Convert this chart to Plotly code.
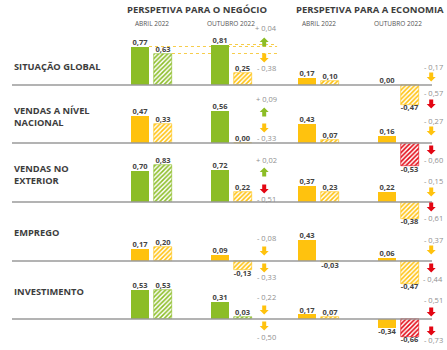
import plotly.graph_objects as go

# ---------------- DATA ----------------
row_labels = ["SITUAÇÃO GLOBAL", "VENDAS A NÍVEL<br>NACIONAL", "VENDAS NO<br>EXTERIOR",
              "EMPREGO", "INVESTIMENTO"]
panel_titles = ["PERSPETIVA PARA O NEGÓCIO", "PERSPETIVA PARA A ECONOMIA"]
period_labels = ["ABRIL 2022", "OUTUBRO 2022"]

# Perspetiva para o negócio
neg_abr_atual = [0.77, 0.47, 0.70, 0.17, 0.53]
neg_abr_expect = [0.63, 0.33, 0.83, 0.20, 0.53]
neg_out_atual = [0.81, 0.56, 0.72, 0.09, 0.31]
neg_out_expect = [0.25, 0.00, 0.22, -0.13, 0.03]
neg_var_atual = [0.04, 0.09, 0.02, -0.08, -0.22]
neg_var_expect = [-0.38, -0.33, -0.51, -0.33, -0.50]

# Perspetiva para a economia
eco_abr_atual = [0.17, 0.43, 0.37, 0.43, 0.17]
eco_abr_expect = [0.10, 0.07, 0.23, -0.03, 0.07]
eco_out_atual = [0.00, 0.16, 0.22, 0.06, -0.34]
eco_out_expect = [-0.47, -0.53, -0.38, -0.47, -0.66]
eco_var_atual = [-0.17, -0.27, -0.15, -0.37, -0.51]
eco_var_expect = [-0.57, -0.60, -0.61, -0.44, -0.73]

# sentiment class of every bar / arrow (G good, Y moderate, R bad)
neg_abr_atual_cls = ["G", "Y", "G", "Y", "G"]
neg_abr_expect_cls = ["G", "Y", "G", "Y", "G"]
neg_out_atual_cls = ["G", "G", "G", "Y", "G"]
neg_out_expect_cls = ["Y", "Y", "Y", "Y", "G"]
neg_var_atual_cls = ["G", "G", "G", "Y", "Y"]
neg_var_expect_cls = ["Y", "Y", "R", "Y", "Y"]
eco_abr_atual_cls = ["Y", "Y", "Y", "Y", "Y"]
eco_abr_expect_cls = ["Y", "Y", "Y", "Y", "Y"]
eco_out_atual_cls = ["Y", "Y", "Y", "Y", "Y"]
eco_out_expect_cls = ["Y", "R", "Y", "Y", "R"]
eco_var_atual_cls = ["Y", "Y", "Y", "Y", "R"]
eco_var_expect_cls = ["R", "R", "R", "R", "R"]

# ---------------- STYLE / LAYOUT ----------------
W, H = 447, 350
COL = {"G": "#8CBD26", "Y": "#FFC20E", "R": "#E30613"}
FONT = "Open Sans"
DARK = "#3d3d3d"

baselines = [85, 143, 202, 261, 319]          # px from top
scales = [[50, 57, 45, 70, 55], [42, 44, 44, 48, 27]]   # px per unit
UNIT = 23.0                                   # px per x unit
origins = [140, 307]
xdomains = [(115, 285), (285, 447)]
bar_pos = [0, 1, 3.48, 4.46]
hatched = [False, True, False, True]
arrow_x = 5.4
text_x = 5.48
BAR_W = 0.78

# offsets (px, positive = down) of [delta text 1, arrow 1, arrow 2, delta text 2]
offs = [
    [[-57, -43, -27, -17], [-44, -31, -15, -5], [-42, -30, -13, -3], [-23, -10, 7, 16], [-22, -9, 7, 18]],
    [[-18, -8, 19, 8], [-22, -12, 7, 17], [-21, -10, 5, 16], [-21, -11, 7, 18], [-19, -7, 12, 21]],
]
label_offs = [-18, -27, -28, -29, -28]

panels = [
    dict(vals=[neg_abr_atual, neg_abr_expect, neg_out_atual, neg_out_expect],
         cls=[neg_abr_atual_cls, neg_abr_expect_cls, neg_out_atual_cls, neg_out_expect_cls],
         var=[neg_var_atual, neg_var_expect], vcls=[neg_var_atual_cls, neg_var_expect_cls]),
    dict(vals=[eco_abr_atual, eco_abr_expect, eco_out_atual, eco_out_expect],
         cls=[eco_abr_atual_cls, eco_abr_expect_cls, eco_out_atual_cls, eco_out_expect_cls],
         var=[eco_var_atual, eco_var_expect], vcls=[eco_var_atual_cls, eco_var_expect_cls]),
]


def fmt(v):
    return f"{v:.2f}".replace(".", ",")


def fmt_delta(v):
    return ("+ " if v > 0 else "- ") + f"{abs(v):.2f}".replace(".", ",")


fig = go.Figure()
layout = dict(width=W, height=H, margin=dict(l=0, r=0, t=0, b=0),
              paper_bgcolor="white", plot_bgcolor="rgba(0,0,0,0)",
              showlegend=False, bargap=0)
shapes, annots = [], []

for p in range(2):
    xname = "xaxis" if p == 0 else "xaxis2"
    d0, d1 = xdomains[p]
    layout[xname] = dict(domain=[d0 / W, d1 / W],
                         range=[(d0 - origins[p]) / UNIT, (d1 - origins[p]) / UNIT],
                         visible=False, fixedrange=True,
                         anchor="y" if p == 0 else "y2")

for r in range(5):
    b = baselines[r]
    for p in range(2):
        k = 2 * r + p + 1
        yname = "yaxis" if k == 1 else f"yaxis{k}"
        yref = "y" if k == 1 else f"y{k}"
        xref = "x" if p == 0 else "x2"
        s = scales[p][r]
        top = max(0, b - 60)
        bot = min(H, b + 40)
        layout[yname] = dict(domain=[1 - bot / H, 1 - top / H],
                             range=[-(bot - b) / s, (b - top) / s],
                             visible=False, fixedrange=True, anchor=xref)
        pan = panels[p]
        for c in range(4):
            v = pan["vals"][c][r]
            col = COL[pan["cls"][c][r]]
            if hatched[c]:
                marker = dict(color="white", line=dict(width=0.6, color=col),
                              pattern=dict(shape="/", fgcolor=col, bgcolor="white",
                                           size=3.2, solidity=0.5, fillmode="replace"))
            else:
                marker = dict(color=col, line=dict(width=0))
            fig.add_trace(go.Bar(x=[bar_pos[c]], y=[v], width=BAR_W,
                                 xaxis=xref, yaxis=yref, marker=marker,
                                 hoverinfo="skip"))
        vals = [pan["vals"][c][r] for c in range(4)]
        fig.add_trace(go.Scatter(
            x=bar_pos, y=vals, xaxis=xref, yaxis=yref, mode="text",
            text=[f"<b>{fmt(v)}</b>" for v in vals],
            textposition=["top center" if v >= 0 else "bottom center" for v in vals],
            textfont=dict(family=FONT, size=7.5, color="#444"),
            cliponaxis=False, hoverinfo="skip"))
        o = offs[p][r]
        for v, oy in [(pan["var"][0][r], o[0]), (pan["var"][1][r], o[3])]:
            annots.append(dict(x=text_x, y=0, xref=xref, yref=yref, yshift=-oy,
                               text=fmt_delta(v), showarrow=False,
                               font=dict(family=FONT, size=7.5, color="#8f8f8f"),
                               xanchor="center", yanchor="middle"))
        for j, oy in enumerate([o[1], o[2]]):
            v = pan["var"][j][r]
            c = COL[pan["vcls"][j][r]]
            cy = -oy
            sgn = 1 if v > 0 else -1
            hw, sw, hh, sh = 4.5, 2.0, 4.5, 4.5
            pts = [(-sw, cy - sgn * sh), (sw, cy - sgn * sh), (sw, cy), (hw, cy),
                   (0, cy + sgn * hh), (-hw, cy), (-sw, cy)]
            path = "M " + " L ".join(f"{px},{py}" for px, py in pts) + " Z"
            shapes.append(dict(type="path", xref=xref, yref=yref,
                               xsizemode="pixel", ysizemode="pixel",
                               xanchor=arrow_x, yanchor=0, path=path,
                               fillcolor=c, line=dict(width=0)))
        if p == 0:
            shapes.append(dict(type="line", xref="paper", yref=yref,
                               x0=12 / W, x1=432 / W, y0=0, y1=0,
                               line=dict(color="#9a9a9a", width=1.5), layer="above"))
            annots.append(dict(x=12 / W, y=0, xref="paper", yref=yref, yshift=-label_offs[r],
                               text=f"<b>{row_labels[r]}</b>", showarrow=False, align="left",
                               font=dict(family=FONT, size=9.3, color=DARK),
                               xanchor="left", yanchor="middle"))

# dotted reference lines in the first business row
ref_lines = [(neg_out_atual[0], bar_pos[2] + BAR_W / 2),
             (neg_abr_atual[0], bar_pos[0] + BAR_W / 2),
             (neg_abr_expect[0], bar_pos[1] + BAR_W / 2)]
for yv, x0 in ref_lines:
    shapes.append(dict(type="line", xref="x", yref="y", x0=x0, x1=5.96, y0=yv, y1=yv,
                       line=dict(color="#F7CD4A", width=1, dash="dot"), layer="below"))

title_cx = [196.7, 370]
for p in range(2):
    xref = "x" if p == 0 else "x2"
    annots.append(dict(x=title_cx[p] / W, y=1 - 9.5 / H, xref="paper", yref="paper",
                       text=f"<b>{panel_titles[p]}</b>", showarrow=False,
                       font=dict(family=FONT, size=9.5, color=DARK),
                       xanchor="center", yanchor="middle"))
    for i in range(2):
        cx = (bar_pos[2 * i] + bar_pos[2 * i + 1]) / 2
        annots.append(dict(x=cx, y=1 - 23.5 / H, xref=xref, yref="paper",
                           text=period_labels[i], showarrow=False,
                           font=dict(family=FONT, size=6.5, color="#555"),
                           xanchor="center", yanchor="middle"))

layout["shapes"] = shapes
layout["annotations"] = annots
fig.update_layout(**layout)
fig.write_html("out.html")
